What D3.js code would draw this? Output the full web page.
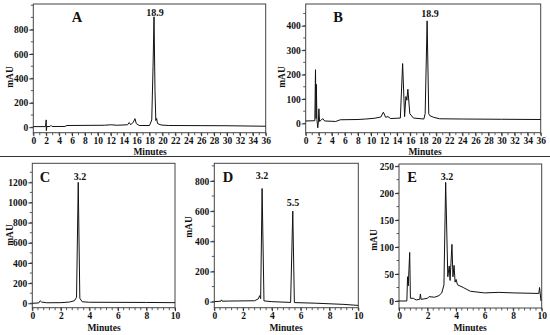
<!DOCTYPE html>
<html><head><meta charset="utf-8">
<script src="https://cdn.jsdelivr.net/npm/d3@7"></script>
<style>
body{margin:0;background:#fff;}
svg{display:block;}
text{font-family:"Liberation Serif","Times New Roman",serif;font-weight:bold;fill:#111;}
</style></head><body>
<svg id="c" width="550" height="335"></svg>
<script>
// ---- data (time in minutes, signal in mAU) ----
const traceA = [[0,5],[1.9,5],[2.0,60],[2.02,-28],[2.1,6],[2.6,6],[2.75,15],[2.9,6],[4.9,6],[5.2,14],[8,15],[11,16],[12,20],[13,16],[14.6,20],[14.85,38],[15.1,20],[15.5,42],[15.75,70],[15.95,30],[16.4,14],[18.0,14],[18.35,60],[18.55,500],[18.7,905],[18.85,300],[18.98,55],[19.1,72],[19.25,30],[19.8,18],[21,14],[26,13],[30,12],[36,8]];
const traceB = [[0,10],[1.4,11],[1.5,220],[1.58,20],[1.63,160],[1.72,15],[1.85,-18],[1.95,10],[2.02,60],[2.12,8],[2.4,14],[2.6,20],[2.9,10],[4.6,8],[5.3,15],[8,16],[9.2,18],[10.5,21],[11.5,26],[11.9,46],[12.25,25],[12.6,28],[13,20],[14.5,22],[14.85,245],[15.15,28],[15.35,110],[15.5,95],[15.65,140],[15.95,40],[16.5,22],[18.1,18],[18.3,40],[18.6,420],[18.85,40],[19.0,32],[19.6,25],[20.5,19],[24,18],[30,17],[36,16]];
const traceC = [[0,0],[0.45,3],[0.55,25],[0.65,12],[1,5],[2,6],[2.6,12],[2.95,25],[3.1,60],[3.22,1200],[3.33,50],[3.5,15],[4,10],[6,9],[8,8],[10,6]];
const traceD = [[0,0],[0.45,3],[0.5,12],[0.55,3],[1,4],[2.8,6],[3.05,18],[3.15,40],[3.22,20],[3.32,750],[3.45,5],[4,0],[5.3,-5],[5.45,600],[5.56,-6],[7,-10],[9,-18],[10,-25]];
const traceE = [[0,0],[0.55,0],[0.6,45],[0.65,28],[0.7,60],[0.75,90],[0.8,5],[1.0,5],[1.2,2],[1.45,3],[1.5,13],[1.55,3],[2.0,5],[2.1,8],[2.5,7],[2.8,10],[3.0,15],[3.15,30],[3.27,220],[3.42,45],[3.52,65],[3.58,38],[3.64,70],[3.71,105],[3.78,45],[3.86,66],[3.93,35],[4.0,40],[4.1,30],[4.5,25],[5.0,18],[6,15],[7,16],[8,15],[9.8,14],[9.85,25],[9.95,0]];

const ticksA_x = d3.range(0, 37, 2), ticksA_y = [0, 200, 400, 600, 800];
const ticksB_x = d3.range(0, 37, 2), ticksB_y = [0, 100, 200, 300, 400];
const ticksC_x = [0, 2, 4, 6, 8, 10], ticksC_y = [0, 200, 400, 600, 800, 1000, 1200];
const ticksD_x = [0, 2, 4, 6, 8, 10], ticksD_y = [0, 200, 400, 600, 800];
const ticksE_x = [0, 2, 4, 6, 8, 10], ticksE_y = [0, 50, 100, 150, 200, 250];
const peakLabels = {A: ["18.9"], B: ["18.9"], C: ["3.2"], D: ["3.2", "5.5"], E: ["3.2"]};

// ---- layout ----
const panels = [
  {id:"A", data:traceA, xd:[0,36], yd:[-45,1010], xt:ticksA_x, yt:ticksA_y, xm:1, ym:100,
   box:[33.3,4,265.7,132.7], letter:[77,22], peaks:[[155,16]], ylab:[10,77], xlab:[150,154.5]},
  {id:"B", data:traceB, xd:[0,36], yd:[-38,489], xt:ticksB_x, yt:ticksB_y, xm:1, ym:50,
   box:[305.7,4,540.7,132.7], letter:[338,22], peaks:[[430,17]], ylab:[282,77], xlab:[425,154.5]},
  {id:"C", data:traceC, xd:[0,10], yd:[-44,1389], xt:ticksC_x, yt:ticksC_y, xm:0.4, ym:100,
   box:[32.3,163.3,175,307.7], letter:[45,182], peaks:[[80,180]], ylab:[10,235], xlab:[104,331]},
  {id:"D", data:traceD, xd:[0,10], yd:[-40,917], xt:ticksD_x, yt:ticksD_y, xm:0.4, ym:100,
   box:[214.3,163.3,358.3,307.7], letter:[228,182], peaks:[[262,179],[293,206]], ylab:[189,227], xlab:[286,331]},
  {id:"E", data:traceE, xd:[0,10], yd:[-13,254], xt:ticksE_x, yt:ticksE_y, xm:0.4, ym:25,
   box:[399,164,541.7,308], letter:[412,182], peaks:[[447,180]], ylab:[374,240], xlab:[470,331]}
];

const svg = d3.select("#c");

// separator line
svg.append("line").attr("x1",0).attr("x2",550).attr("y1",156.5).attr("y2",156.5)
  .attr("stroke","#333").attr("stroke-width",1);

panels.forEach(p => {
  const [x0,y0,x1,y1] = p.box;
  const x = d3.scaleLinear().domain(p.xd).range([x0,x1]);
  const y = d3.scaleLinear().domain(p.yd).range([y1,y0]);
  const g = svg.append("g");

  // minor ticks
  const xminor = d3.range(p.xd[0], p.xd[1] + 1e-9, p.xm);
  g.selectAll(".mx").data(xminor).join("line")
    .attr("x1",d=>x(d)).attr("x2",d=>x(d)).attr("y1",y1).attr("y2",y1+2.5)
    .attr("stroke","#333").attr("stroke-width",0.8);
  const yminor = d3.range(Math.ceil(p.yd[0]/p.ym)*p.ym, p.yd[1], p.ym);
  g.selectAll(".my").data(yminor).join("line")
    .attr("x1",x0-2.5).attr("x2",x0).attr("y1",d=>y(d)).attr("y2",d=>y(d))
    .attr("stroke","#333").attr("stroke-width",0.8);

  // axes
  const xa = g.append("g").attr("transform",`translate(0,${y1})`)
    .call(d3.axisBottom(x).tickValues(p.xt).tickSize(3.5).tickPadding(1).tickFormat(d3.format("d")));
  const ya = g.append("g").attr("transform",`translate(${x0},0)`)
    .call(d3.axisLeft(y).tickValues(p.yt).tickSize(4).tickPadding(1).tickFormat(d3.format("d")));
  [xa,ya].forEach(a=>{
    a.select(".domain").remove();
    a.selectAll("line").attr("stroke","#333");
    a.selectAll("text").style("font-size","9.5px").attr("fill","#111");
  });

  // frame
  g.append("rect").attr("x",x0).attr("y",y0).attr("width",x1-x0).attr("height",y1-y0)
    .attr("fill","none").attr("stroke","#444").attr("stroke-width",1);

  // trace
  g.append("path").datum(p.data)
    .attr("d", d3.line().x(d=>x(d[0])).y(d=>y(d[1])))
    .attr("fill","none").attr("stroke","#111").attr("stroke-width",1).attr("stroke-linejoin","round");

  // texts
  g.append("text").attr("x",p.letter[0]).attr("y",p.letter[1]).attr("text-anchor","middle")
    .style("font-size","14.5px").text(p.id);
  peakLabels[p.id].forEach((t,i)=>{
    g.append("text").attr("x",p.peaks[i][0]).attr("y",p.peaks[i][1]).attr("text-anchor","middle")
      .style("font-size","10px").text(t);
  });
  g.append("text").attr("transform",`translate(${p.ylab[0]+3},${p.ylab[1]}) rotate(-90)`)
    .attr("text-anchor","middle").style("font-size","9.5px").text("mAU");
  g.append("text").attr("x",p.xlab[0]).attr("y",p.xlab[1]).attr("text-anchor","middle")
    .style("font-size","9.5px").text("Minutes");
});
</script></body></html>
